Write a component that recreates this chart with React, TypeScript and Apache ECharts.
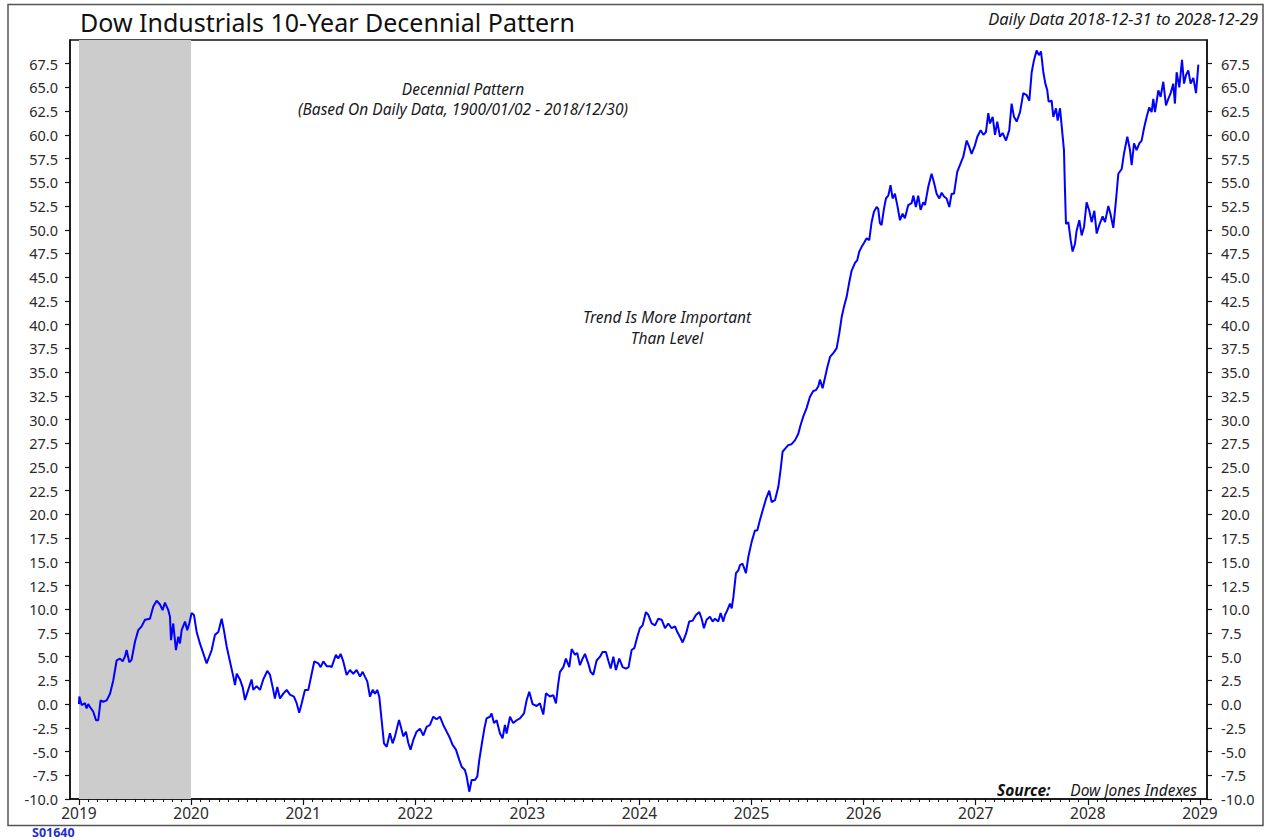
import React, { useEffect, useRef } from "react";
import * as echarts from "echarts";

// Decennial pattern: x = years since 2019-01-01, y = cumulative % change
const BASE_YEAR = 2019;

const t2019 = [0, 0.003, 0.024, 0.054, 0.068, 0.083, 0.098, 0.128, 0.152, 0.172, 0.193, 0.217, 0.247, 0.277, 0.306, 0.336, 0.366, 0.39, 0.41, 0.425, 0.449, 0.47, 0.5, 0.529, 0.559, 0.589, 0.633, 0.663, 0.693, 0.723, 0.746, 0.767, 0.797, 0.812, 0.821, 0.841, 0.865, 0.886, 0.901, 0.916, 0.946, 0.966, 0.984];
const v2019 = [0, 0.8, -0.1, 0.1, -0.45, 0.0, -0.3, -0.8, -1.7, -1.7, 0.4, 0.25, 0.4, 1.1, 2.5, 4.6, 4.8, 4.5, 5.0, 5.7, 4.4, 4.7, 6.6, 7.8, 8.2, 8.9, 9.0, 10.3, 10.9, 10.5, 9.9, 10.7, 9.9, 9.2, 6.75, 8.5, 5.7, 7.1, 6.4, 7.8, 8.7, 7.8, 8.5];

const t2020 = [1.005, 1.026, 1.05, 1.079, 1.109, 1.139, 1.162, 1.184, 1.213, 1.243, 1.273, 1.293, 1.318, 1.347, 1.377, 1.392, 1.407, 1.436, 1.46, 1.481, 1.51, 1.54, 1.555, 1.585, 1.615, 1.644, 1.68, 1.704, 1.733, 1.748, 1.769, 1.793, 1.823, 1.853, 1.882, 1.918, 1.942, 1.965, 1.987];
const v2020 = [9.6, 9.4, 7.6, 6.4, 5.35, 4.3, 5.0, 5.7, 7.3, 7.6, 9.0, 7.8, 6.05, 4.5, 2.9, 2.0, 3.2, 2.6, 1.8, 0.43, 1.5, 2.6, 1.5, 1.9, 1.5, 2.6, 3.5, 3.1, 1.5, 0.6, 1.8, 0.6, 1.1, 1.5, 1.0, 0.8, 0.1, -0.9, 0.1];

const t2021 = [2.016, 2.046, 2.076, 2.099, 2.135, 2.156, 2.18, 2.21, 2.239, 2.254, 2.292, 2.313, 2.334, 2.358, 2.388, 2.417, 2.447, 2.477, 2.507, 2.531, 2.551, 2.572, 2.596, 2.62, 2.641, 2.661, 2.679, 2.7, 2.721, 2.745, 2.774, 2.798, 2.819, 2.855, 2.872, 2.893, 2.917, 2.938, 2.958, 2.982];
const v2021 = [1.5, 1.5, 3.2, 4.5, 4.3, 3.9, 4.5, 4.0, 4.0, 3.9, 5.2, 4.8, 5.3, 4.5, 3.07, 3.6, 3.2, 3.6, 2.9, 3.4, 2.9, 2.4, 0.78, 1.5, 1.1, 1.5, 0.78, -1.68, -4.13, -4.5, -3.08, -4.13, -3.4, -1.68, -2.4, -3.4, -2.9, -4.1, -4.8, -3.8];

const t2022 = [3.012, 3.042, 3.072, 3.101, 3.131, 3.161, 3.19, 3.22, 3.25, 3.28, 3.31, 3.333, 3.363, 3.393, 3.414, 3.443, 3.458, 3.482, 3.503, 3.533, 3.554, 3.571, 3.595, 3.616, 3.636, 3.666, 3.681, 3.702, 3.726, 3.756, 3.779, 3.8, 3.815, 3.845, 3.874, 3.904, 3.934, 3.97, 3.994];
const v2022 = [-2.9, -2.6, -3.3, -2.4, -2.2, -1.33, -1.6, -1.33, -2.2, -2.9, -3.6, -4.3, -4.8, -5.9, -6.6, -6.95, -7.6, -9.23, -8.0, -8.0, -7.6, -5.9, -4.1, -2.6, -1.5, -1.33, -0.98, -2.0, -1.7, -3.1, -3.6, -2.2, -3.1, -1.33, -2.0, -1.7, -1.5, -0.98, 0.43];

const t2023 = [4.017, 4.047, 4.083, 4.112, 4.142, 4.166, 4.202, 4.231, 4.255, 4.276, 4.291, 4.321, 4.344, 4.374, 4.395, 4.425, 4.445, 4.469, 4.493, 4.514, 4.543, 4.564, 4.588, 4.618, 4.648, 4.671, 4.701, 4.722, 4.743, 4.767, 4.79, 4.82, 4.85, 4.88, 4.903, 4.93, 4.954, 4.981];
const v2023 = [1.3, 0.0, -0.2, 0.1, -1.1, 1.14, 0.8, 0.95, 0.08, 2.19, 3.4, 3.9, 4.8, 3.9, 5.8, 5.2, 5.4, 4.1, 4.8, 5.3, 4.3, 3.4, 3.1, 4.6, 5.0, 5.5, 5.5, 4.6, 3.75, 5.0, 3.6, 4.8, 3.9, 3.75, 3.9, 5.7, 5.9, 7.1];

const t2024 = [5.004, 5.028, 5.058, 5.079, 5.109, 5.139, 5.168, 5.198, 5.228, 5.257, 5.287, 5.317, 5.338, 5.361, 5.385, 5.415, 5.444, 5.474, 5.504, 5.534, 5.555, 5.575, 5.599, 5.629, 5.653, 5.674, 5.703, 5.724, 5.748, 5.763, 5.784, 5.808, 5.823, 5.838, 5.861, 5.882, 5.897, 5.92, 5.95, 5.971];
const v2024 = [8.0, 8.3, 9.7, 9.4, 8.5, 8.3, 9.0, 8.9, 8.0, 8.5, 8.0, 8.2, 7.6, 7.1, 6.5, 7.4, 8.7, 8.8, 9.4, 9.7, 9.0, 8.0, 8.9, 9.2, 8.7, 9.0, 8.7, 9.6, 8.7, 9.4, 9.9, 10.6, 10.1, 11.3, 13.8, 14.1, 14.66, 14.8, 13.8, 15.5];

const t2025 = [6.001, 6.03, 6.051, 6.075, 6.099, 6.128, 6.158, 6.179, 6.209, 6.239, 6.259, 6.277, 6.298, 6.327, 6.357, 6.387, 6.417, 6.437, 6.461, 6.491, 6.521, 6.551, 6.575, 6.596, 6.61, 6.634, 6.655, 6.676, 6.7, 6.729, 6.759, 6.783, 6.804, 6.825, 6.848, 6.872, 6.893, 6.923, 6.943, 6.961, 6.982];
const v2025 = [17.1, 18.3, 18.3, 19.4, 20.4, 21.6, 22.5, 21.3, 21.5, 22.9, 24.7, 26.6, 26.9, 27.3, 27.4, 27.8, 28.5, 29.4, 30.3, 31.2, 32.4, 33.0, 33.1, 33.5, 34.2, 33.3, 34.4, 35.5, 36.6, 37.0, 37.5, 39.1, 40.8, 41.9, 42.9, 44.5, 45.7, 46.5, 46.8, 47.7, 48.2];

const t2026 = [7.003, 7.027, 7.05, 7.071, 7.092, 7.116, 7.13, 7.145, 7.16, 7.181, 7.199, 7.22, 7.24, 7.258, 7.279, 7.3, 7.324, 7.347, 7.368, 7.398, 7.428, 7.443, 7.466, 7.487, 7.508, 7.532, 7.547, 7.576, 7.606, 7.627, 7.651, 7.675, 7.696, 7.717, 7.74, 7.764, 7.785, 7.806, 7.835, 7.865, 7.889, 7.919, 7.943, 7.963, 7.993];
const v2026 = [48.6, 49.1, 48.9, 50.8, 51.9, 52.4, 52.2, 50.7, 50.5, 52.2, 53.3, 53.6, 54.7, 53.3, 53.8, 52.6, 51.0, 51.7, 51.2, 52.6, 52.8, 53.6, 52.4, 53.6, 52.1, 52.9, 52.6, 54.5, 55.9, 55.0, 53.8, 53.3, 53.9, 53.5, 53.3, 52.4, 53.8, 53.8, 56.1, 57.0, 57.7, 59.4, 58.7, 58.0, 58.9];

const t2027 = [8.014, 8.044, 8.068, 8.091, 8.112, 8.127, 8.151, 8.172, 8.192, 8.216, 8.24, 8.27, 8.299, 8.32, 8.341, 8.365, 8.395, 8.424, 8.454, 8.478, 8.499, 8.52, 8.543, 8.564, 8.582, 8.603, 8.621, 8.638, 8.65, 8.677, 8.692, 8.716, 8.731, 8.752, 8.766, 8.787, 8.796, 8.805, 8.826, 8.847, 8.864, 8.885, 8.9, 8.924, 8.945, 8.966, 8.989];
const v2027 = [59.8, 60.5, 60.0, 60.3, 62.3, 61.2, 61.9, 60.0, 61.4, 59.8, 60.2, 59.4, 60.5, 63.3, 61.9, 61.4, 62.4, 64.4, 64.2, 63.6, 66.6, 67.9, 68.9, 68.4, 68.8, 66.6, 65.4, 64.7, 63.5, 63.6, 61.9, 62.8, 61.5, 62.8, 61.0, 58.4, 54.2, 50.6, 50.8, 48.9, 47.7, 48.5, 49.9, 51.0, 49.4, 50.3, 52.9];

const t2028 = [9.013, 9.034, 9.058, 9.079, 9.102, 9.132, 9.153, 9.183, 9.203, 9.227, 9.251, 9.272, 9.302, 9.322, 9.352, 9.376, 9.391, 9.412, 9.435, 9.459, 9.48, 9.501, 9.525, 9.548, 9.569, 9.584, 9.599, 9.629, 9.649, 9.673, 9.697, 9.718, 9.739, 9.762, 9.777, 9.792, 9.816, 9.84, 9.858, 9.876, 9.896, 9.917, 9.941, 9.965, 9.986];
const v2028 = [52.0, 50.8, 52.0, 49.6, 50.5, 51.4, 50.8, 52.5, 51.6, 50.2, 53.1, 55.9, 56.4, 58.0, 59.8, 58.4, 56.8, 59.1, 58.4, 59.1, 59.4, 60.7, 61.9, 62.9, 62.4, 63.8, 62.4, 64.7, 64.0, 65.6, 63.1, 63.8, 64.4, 65.4, 63.3, 66.6, 65.0, 67.9, 65.4, 66.3, 66.8, 65.4, 66.0, 64.4, 67.4];

const yearLabels = [2019, 2020, 2021, 2022, 2023, 2024, 2025, 2026, 2027, 2028, 2029];
const shadeStart = 2019;
const shadeEnd = 2020;
const Y_MIN = -10;
const Y_MAX = 70;
const Y_STEP = 2.5;
const X_MIN = 2018.92;
const X_MAX = 2029.063;

const segments: [number[], number[]][] = [
  [t2019, v2019], [t2020, v2020], [t2021, v2021], [t2022, v2022], [t2023, v2023],
  [t2024, v2024], [t2025, v2025], [t2026, v2026], [t2027, v2027], [t2028, v2028],
];

const FONT = "'Noto Sans', 'Open Sans', sans-serif";

export default function App() {
  const ref = useRef<HTMLDivElement>(null);

  useEffect(() => {
    if (!ref.current) return;
    const chart = echarts.init(ref.current, null, { renderer: "svg" });

    const lineData: [number, number][] = [];
    segments.forEach(([ts, vs]) => {
      ts.forEach((t, i) => lineData.push([BASE_YEAR + t, vs[i]]));
    });

    const monthTicks: number[] = [];
    for (let y = 2019; y < 2029; y++) {
      for (let m = 1; m < 12; m++) monthTicks.push(y + m / 12);
    }

    const yAxisCommon = {
      type: "value",
      min: Y_MIN,
      max: Y_MAX,
      interval: Y_STEP,
      splitLine: { show: false },
      axisLine: { show: true, lineStyle: { color: "#111", width: 1.5 } },
      axisTick: { show: true, inside: false, length: 5, lineStyle: { color: "#111", width: 1.2 } },
      axisLabel: {
        show: true,
        margin: 12,
        color: "#2a2a2a",
        fontSize: 14.5,
        fontFamily: FONT,
        showMaxLabel: false,
        formatter: (v: number) => (v >= Y_MAX ? "" : v.toFixed(1)),
      },
    };

    const italic = (text: string, x: number, y: number, align: string, size = 15.5) => ({
      type: "text",
      x,
      y,
      style: { text, fontSize: size, fontStyle: "italic", fontFamily: FONT, fill: "#1a1a1a", align, verticalAlign: "middle" },
    });

    const option: any = {
      animation: false,
      backgroundColor: "#ffffff",
      grid: {
        left: 70,
        right: 60,
        top: 40,
        bottom: 41,
        show: true,
        borderColor: "#111",
        borderWidth: 1.5,
        backgroundColor: "transparent",
      },
      xAxis: [
        {
          type: "value",
          min: X_MIN,
          max: X_MAX,
          splitLine: { show: false },
          axisLine: { show: true, onZero: false, lineStyle: { color: "#111", width: 1.5 } },
          axisTick: { show: true, inside: false, length: 6, customValues: yearLabels, lineStyle: { color: "#111", width: 1.2 } },
          axisLabel: {
            show: true,
            customValues: yearLabels,
            margin: 6,
            color: "#2a2a2a",
            fontSize: 15.5,
            fontFamily: FONT,
            formatter: (v: number) => String(Math.round(v)),
          },
        },
        {
          type: "value",
          min: X_MIN,
          max: X_MAX,
          position: "bottom",
          splitLine: { show: false },
          axisLine: { show: false, onZero: false },
          axisTick: { show: true, inside: false, length: 3, customValues: monthTicks, lineStyle: { color: "#111", width: 1 } },
          axisLabel: { show: false },
        },
      ],
      yAxis: [
        { ...yAxisCommon, position: "left" },
        { ...yAxisCommon, position: "right", axisLabel: { ...yAxisCommon.axisLabel, margin: 14 } },
      ],
      series: [
        {
          type: "line",
          xAxisIndex: 0,
          yAxisIndex: 0,
          data: lineData,
          showSymbol: false,
          symbol: "none",
          lineStyle: { color: "#0000ff", width: 2 },
          z: 3,
          markArea: {
            silent: true,
            itemStyle: { color: "#cccccc", opacity: 1 },
            data: [[{ xAxis: shadeStart }, { xAxis: shadeEnd }]],
          },
        },
      ],
      graphic: [
        {
          type: "rect",
          z: 100,
          silent: true,
          shape: { x: 8, y: 4.5, width: 1255, height: 821 },
          style: { fill: "none", stroke: "#555", lineWidth: 1.5 },
        },
        {
          type: "text",
          x: 80,
          y: 22,
          style: { text: "Dow Industrials 10-Year Decennial Pattern", fontSize: 25, fontFamily: FONT, fill: "#111", align: "left", verticalAlign: "middle" },
        },
        italic("Daily Data 2018-12-31 to 2028-12-29", 1258, 18, "right", 16.5),
        italic("Decennial Pattern", 463, 89, "center"),
        italic("(Based On Daily Data, 1900/01/02 - 2018/12/30)", 463, 109, "center"),
        italic("Trend Is More Important", 667, 317, "center"),
        italic("Than Level", 667, 338, "center"),
        {
          type: "text",
          x: 997,
          y: 790,
          style: { text: "Source:", fontSize: 15.5, fontStyle: "italic", fontWeight: "bold", fontFamily: FONT, fill: "#111", align: "left", verticalAlign: "middle" },
        },
        italic("Dow Jones Indexes", 1197, 790, "right"),
        {
          type: "text",
          x: 32,
          y: 832,
          style: { text: "S01640", fontSize: 12.5, fontWeight: "bold", fontFamily: FONT, fill: "#1f2fd0", align: "left", verticalAlign: "middle" },
        },
      ],
    };

    chart.setOption(option);
    return () => chart.dispose();
  }, []);

  return (
    <div
      ref={ref}
      style={{ position: "fixed", left: 0, top: 0, width: 1267, height: 840, background: "#fff" }}
    />
  );
}
